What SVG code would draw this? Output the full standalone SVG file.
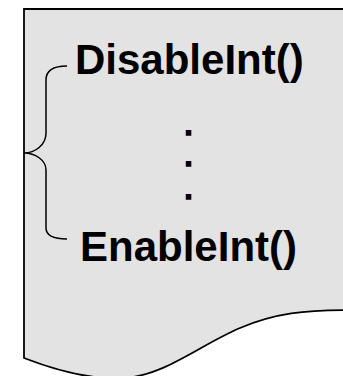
<svg xmlns="http://www.w3.org/2000/svg" width="343" height="376" viewBox="0 0 343 376">
<style>
.t{font-family:"Liberation Sans",Arial,sans-serif;font-weight:bold;font-size:42px;fill:#000}
.d{font-family:"Liberation Sans",Arial,sans-serif;font-weight:bold;font-size:27px;fill:#000;stroke:#000;stroke-width:1.6}
.ln{fill:none;stroke:#000;stroke-width:1.5}
</style>
<rect width="343" height="376" fill="#fff"/>
<g id="document">
<path d="M24,358 V9 H350 V310 C305,310 275,313 240,328 C200,345 165,375 125,378 C95,380 60,372 24,358 Z" fill="#e3e3e3" stroke="#000" stroke-width="1.8"/>
</g>
<g id="connectors">
<path class="ln" d="M67,66 C55,66 46,70 46,80 V133 C46,145 35,153 24,153 C35,153 46,160 46,170 V228 C46,236 55,239 67,239"/>
</g>
<g id="disable">
<text class="t" x="75" y="74">DisableInt()</text>
</g>
<g id="dots">
<text class="d" x="188.5" y="135" text-anchor="middle">.</text>
<text class="d" x="188.5" y="166" text-anchor="middle">.</text>
<text class="d" x="188.5" y="199" text-anchor="middle">.</text>
</g>
<g id="enable">
<text class="t" x="80" y="261">EnableInt()</text>
</g>
</svg>
